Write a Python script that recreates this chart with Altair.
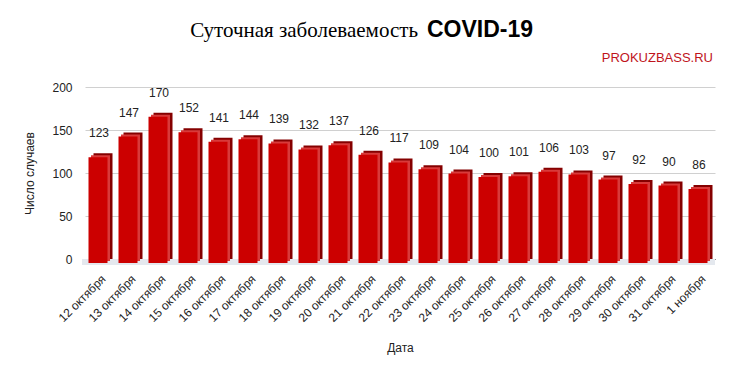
import altair as alt
import pandas as pd

dates = ["12 октября", "13 октября", "14 октября", "15 октября", "16 октября",
         "17 октября", "18 октября", "19 октября", "20 октября", "21 октября",
         "22 октября", "23 октября", "24 октября", "25 октября", "26 октября",
         "27 октября", "28 октября", "29 октября", "30 октября", "31 октября",
         "1 ноября"]
cases = [123, 147, 170, 152, 141, 144, 139, 132, 137, 126, 117, 109, 104, 100,
         101, 106, 103, 97, 92, 90, 86]
y_ticks = [0, 50, 100, 150, 200]
title_parts = ["Суточная заболеваемость", "COVID-19"]
source_text = "PROKUZBASS.RU"

df = pd.DataFrame({"date": dates, "cases": cases, "zero": [0] * len(cases)})
one = pd.DataFrame({"a": [0]})

W, H = 630, 172
FONT = "Liberation Sans"

xenc = alt.X("date:N", sort=dates, title="Дата",
             scale=alt.Scale(paddingInner=0, paddingOuter=0),
             axis=alt.Axis(labelAngle=-45, labelFontSize=12, labelFont=FONT,
                           labelColor="#222", ticks=False, labelPadding=14,
                           domainColor="#333", titleFont=FONT, titleFontSize=12,
                           titleFontWeight="normal", titleColor="#222",
                           titlePadding=19))
yenc = alt.Y("cases:Q", title="Число случаев",
             scale=alt.Scale(domain=[0, 200], nice=False),
             axis=alt.Axis(values=y_ticks, ticks=False, domain=False,
                           labelFontSize=12, labelFont=FONT, labelColor="#222",
                           labelPadding=13, gridColor="#d0d0d0",
                           titleFont=FONT, titleFontSize=12,
                           titleFontWeight="normal", titleColor="#222",
                           titlePadding=15))

base = alt.Chart(df)
single = alt.Chart(one)

floor = single.mark_rect(color="#e4e8ee").encode(
    x=alt.value(-3), x2=alt.value(W), y=alt.value(H), y2=alt.value(H + 6))

side = base.mark_bar(size=19, color="#850000", xOffset=3).encode(
    x=xenc, y=yenc, y2="zero:Q")
top = base.mark_bar(size=19, color="#d93a3a", xOffset=0.5, yOffset=2,
                    y2Offset=2).encode(x=xenc, y=yenc, y2="zero:Q")
front = base.mark_bar(size=19, color="#cc0000", xOffset=-2, yOffset=4,
                      y2Offset=4).encode(x=xenc, y=yenc, y2="zero:Q")

labels = base.mark_text(font=FONT, fontSize=12, color="#222", baseline="middle",
                        dy=-20, xOffset=-1).encode(
    x=xenc, y=yenc, text="cases:Q")

title1 = single.mark_text(text=title_parts[0], font="Liberation Serif",
                          fontSize=21, color="#000", align="right",
                          baseline="alphabetic").encode(
    x=alt.value(333), y=alt.value(-50))
title2 = single.mark_text(text=title_parts[1], font=FONT, fontSize=23,
                          fontWeight="bold", color="#000", align="left",
                          baseline="alphabetic").encode(
    x=alt.value(342), y=alt.value(-50))
source = single.mark_text(text=source_text, font=FONT, fontSize=13,
                          color="#c0141c", align="right",
                          baseline="middle").encode(
    x=alt.value(628), y=alt.value(-29))

chart = alt.layer(floor, side, top, front, labels, title1, title2, source).properties(
    width=W, height=H,
    autosize=alt.AutoSizeParams(type="none"),
    padding={"left": 77, "top": 79, "right": 10, "bottom": 100},
    background="white",
).configure_view(stroke=None)

chart.save("out.html", embed_options={"renderer": "svg", "actions": False})
